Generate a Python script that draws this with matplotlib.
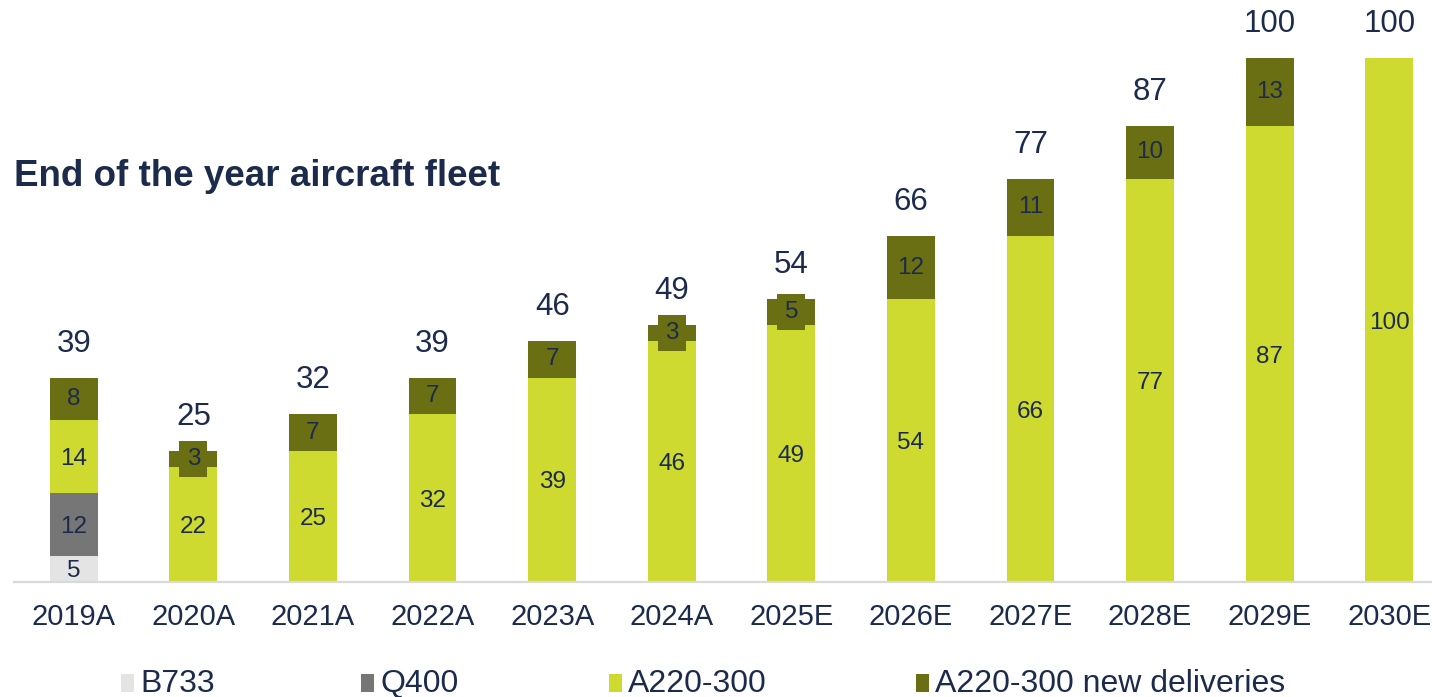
import numpy as np
import matplotlib.pyplot as plt
from matplotlib.patches import Rectangle

years = ['2019A', '2020A', '2021A', '2022A', '2023A', '2024A',
         '2025E', '2026E', '2027E', '2028E', '2029E', '2030E']
b733 = [5, 0, 0, 0, 0, 0, 0, 0, 0, 0, 0, 0]
q400 = [12, 0, 0, 0, 0, 0, 0, 0, 0, 0, 0, 0]
a220 = [14, 22, 25, 32, 39, 46, 49, 54, 66, 77, 87, 100]
a220_new = [8, 3, 7, 7, 7, 3, 5, 12, 11, 10, 13, 0]
series_names = ['B733', 'Q400', 'A220-300', 'A220-300 new deliveries']
colors = ['#E4E4E4', '#767676', '#CEDA2F', '#6B6F14']
navy = '#1C2B4B'

plt.rcParams['font.family'] = ['Liberation Sans', 'DejaVu Sans']

W, H = 1432, 697
fig = plt.figure(figsize=(W / 100, H / 100), dpi=100)
# plot area runs past the right edge, like the cropped slide
ax = fig.add_axes([14 / W, 115 / H, 1435 / W, 576.4 / H])

x = np.arange(len(years))
bw = 0.40
bottom = np.zeros(len(years))
for vals, col in zip([b733, q400, a220, a220_new], colors):
    vals = np.array(vals, dtype=float)
    ax.bar(x, vals, bw, bottom=bottom, color=col, linewidth=0)
    for i, v in enumerate(vals):
        if v <= 0:
            continue
        yc = bottom[i] + v / 2
        if col == colors[3]:
            # label box filled with the segment colour, sticks out on small segments
            ax.text(x[i], yc, f'{int(v)}', ha='center', va='center', fontsize=17.5,
                    color=navy, bbox=dict(boxstyle='square,pad=0.3', fc=col, ec='none'))
        else:
            ax.text(x[i], yc, f'{int(v)}', ha='center', va='center_baseline',
                    fontsize=17.5, color=navy)
    bottom += vals

# totals on top
for i, t in enumerate(bottom):
    ax.annotate(f'{int(t)}', (x[i], t), xytext=(0, 26), textcoords='offset pixels',
                ha='center', va='baseline', fontsize=22.5, color=navy)

ax.set_xlim(-0.5, 11.5)
ax.set_ylim(0, 110)
ax.set_xticks(x)
ax.set_xticklabels(years, fontsize=21, color=navy)
ax.tick_params(axis='x', length=0, pad=15)
ax.set_yticks([])
for s in ['top', 'right', 'left']:
    ax.spines[s].set_visible(False)
ax.spines['bottom'].set_color('#D9D9D9')
ax.spines['bottom'].set_linewidth(1.6)

fig.text(14 / W, 1 - 177 / H, 'End of the year aircraft fleet', fontsize=26.5,
         fontweight='bold', color=navy, ha='left', va='center')

# legend
leg_x = [121, 361, 609, 916]
for lx, name, col in zip(leg_x, series_names, colors):
    fig.add_artist(Rectangle((lx / W, (H - 692) / H), 13 / W, 18 / H,
                             transform=fig.transFigure, color=col, lw=0))
    fig.text((lx + 19) / W, (H - 692) / H, name, fontsize=23, color=navy,
             ha='left', va='baseline')

fig.savefig('out.png', dpi=100)
